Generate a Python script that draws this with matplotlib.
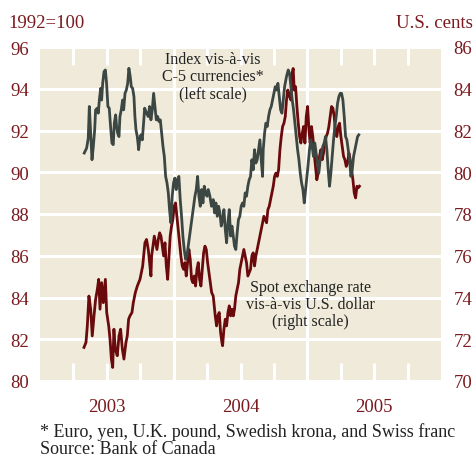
import matplotlib
matplotlib.use("Agg")
import matplotlib.pyplot as plt
from matplotlib.transforms import blended_transform_factory

# C-5 index (left scale, 1992=100), decimal years
index_years = [
    2003.331, 2003.349, 2003.361, 2003.369, 2003.379, 2003.389, 2003.399, 2003.409,
    2003.416, 2003.429, 2003.436, 2003.444, 2003.454, 2003.461, 2003.469, 2003.479,
    2003.489, 2003.498, 2003.508, 2003.518, 2003.528, 2003.538, 2003.548, 2003.556,
    2003.566, 2003.573, 2003.581, 2003.591, 2003.598, 2003.608, 2003.618, 2003.626,
    2003.636, 2003.646, 2003.656, 2003.665, 2003.675, 2003.683, 2003.693, 2003.703,
    2003.710, 2003.718, 2003.728, 2003.738, 2003.745, 2003.755, 2003.765, 2003.773,
    2003.783, 2003.797, 2003.810, 2003.820, 2003.830, 2003.840, 2003.850, 2003.860,
    2003.870, 2003.880, 2003.890, 2003.900, 2003.910, 2003.920, 2003.930, 2003.940,
    2003.950, 2003.960, 2003.969, 2003.979, 2003.989, 2003.999, 2004.009, 2004.019,
    2004.029, 2004.039, 2004.049, 2004.059, 2004.069, 2004.079, 2004.089, 2004.099,
    2004.109, 2004.119, 2004.129, 2004.139, 2004.149, 2004.159, 2004.169, 2004.179,
    2004.189, 2004.199, 2004.209, 2004.219, 2004.229, 2004.239, 2004.249, 2004.259,
    2004.271, 2004.283, 2004.296, 2004.306, 2004.316, 2004.326, 2004.336, 2004.346,
    2004.356, 2004.366, 2004.376, 2004.386, 2004.396, 2004.406, 2004.416, 2004.426,
    2004.436, 2004.446, 2004.455, 2004.465, 2004.475, 2004.485, 2004.495, 2004.505,
    2004.515, 2004.525, 2004.535, 2004.545, 2004.555, 2004.565, 2004.575, 2004.585,
    2004.595, 2004.605, 2004.615, 2004.625, 2004.635, 2004.645, 2004.655, 2004.665,
    2004.670, 2004.680, 2004.690, 2004.700, 2004.710, 2004.720, 2004.730, 2004.740,
    2004.750, 2004.760, 2004.770, 2004.780, 2004.790, 2004.800, 2004.810, 2004.820,
    2004.830, 2004.844, 2004.857, 2004.867, 2004.877, 2004.887, 2004.897, 2004.907,
    2004.917, 2004.927, 2004.937, 2004.947, 2004.957, 2004.967, 2004.977, 2004.987,
    2004.997, 2005.007, 2005.016, 2005.026, 2005.036, 2005.046, 2005.056, 2005.066,
    2005.076, 2005.086, 2005.096, 2005.106, 2005.116, 2005.126, 2005.136, 2005.146,
    2005.156, 2005.166, 2005.176, 2005.186, 2005.196, 2005.206, 2005.216, 2005.226,
    2005.236, 2005.246, 2005.256, 2005.266, 2005.276, 2005.286, 2005.296, 2005.306,
    2005.316, 2005.326, 2005.336, 2005.346, 2005.356, 2005.366, 2005.376, 2005.385,
]
index_vals = [
    90.92, 91.16, 91.63, 93.15, 91.87, 90.60, 91.24, 92.03,
    92.99, 93.07, 92.83, 93.46, 94.02, 93.46, 94.26, 94.82,
    94.90, 94.26, 93.15, 93.07, 92.19, 91.40, 91.32, 92.35,
    92.75, 92.19, 91.87, 91.71, 92.67, 92.99, 93.46, 92.99,
    93.78, 93.94, 94.26, 94.98, 94.58, 94.10, 94.02, 93.62,
    92.67, 92.03, 91.71, 91.08, 91.55, 91.79, 91.55, 92.19,
    93.07, 92.83, 92.67, 93.15, 92.51, 92.99, 93.78, 93.15,
    92.51, 92.67, 92.43, 92.51, 91.87, 91.24, 90.76, 89.80,
    89.49, 89.01, 88.21, 87.58, 88.85, 89.49, 89.72, 89.17,
    89.64, 89.80, 88.69, 87.89, 86.94, 86.30, 85.83, 85.99,
    86.46, 86.94, 87.42, 87.89, 88.37, 88.85, 89.17, 89.80,
    88.85, 88.37, 89.17, 88.53, 89.33, 89.01, 88.85, 89.17,
    88.85, 88.37, 88.69, 88.05, 88.53, 87.89, 88.37, 88.05,
    87.42, 87.74, 88.21, 87.26, 86.62, 87.58, 88.21, 86.94,
    87.42, 86.94, 86.46, 86.30, 87.10, 87.74, 87.89, 88.37,
    88.53, 88.37, 89.01, 88.85, 89.33, 89.64, 89.80, 90.60,
    90.12, 91.08, 90.44, 90.60, 91.08, 91.55, 90.60, 89.80,
    91.08, 91.87, 92.35, 92.19, 92.67, 92.99, 93.15, 93.46,
    93.78, 94.10, 93.94, 94.26, 93.62, 92.99, 92.83, 93.46,
    94.10, 94.58, 94.90, 94.74, 94.10, 93.46, 92.99, 92.35,
    91.71, 91.08, 90.60, 89.96, 89.49, 89.17, 88.53, 89.17,
    89.80, 90.44, 91.08, 91.55, 91.24, 90.76, 91.40, 90.92,
    90.44, 89.96, 90.60, 90.92, 91.24, 91.40, 91.71, 91.08,
    90.12, 89.33, 89.96, 90.76, 91.55, 92.19, 92.67, 93.30,
    93.62, 93.78, 93.78, 93.46, 92.67, 91.71, 91.55, 91.08,
    90.60, 89.80, 90.12, 90.76, 91.08, 91.40, 91.71, 91.79,
]

# Spot rate vs U.S. dollar (right scale, U.S. cents)
spot_years = [
    2003.329, 2003.344, 2003.354, 2003.366, 2003.379, 2003.391, 2003.404, 2003.416,
    2003.429, 2003.439, 2003.449, 2003.461, 2003.474, 2003.489, 2003.499, 2003.514,
    2003.524, 2003.534, 2003.544, 2003.553, 2003.563, 2003.578, 2003.591, 2003.603,
    2003.616, 2003.628, 2003.643, 2003.653, 2003.663, 2003.673, 2003.688, 2003.698,
    2003.713, 2003.728, 2003.748, 2003.768, 2003.785, 2003.797, 2003.810, 2003.820,
    2003.830, 2003.835, 2003.845, 2003.855, 2003.865, 2003.875, 2003.885, 2003.895,
    2003.905, 2003.915, 2003.925, 2003.935, 2003.945, 2003.955, 2003.965, 2003.974,
    2003.984, 2003.994, 2004.004, 2004.014, 2004.024, 2004.034, 2004.044, 2004.054,
    2004.064, 2004.074, 2004.084, 2004.094, 2004.104, 2004.114, 2004.124, 2004.134,
    2004.144, 2004.154, 2004.164, 2004.174, 2004.184, 2004.194, 2004.204, 2004.214,
    2004.224, 2004.234, 2004.244, 2004.254, 2004.264, 2004.274, 2004.284, 2004.296,
    2004.311, 2004.321, 2004.331, 2004.341, 2004.351, 2004.361, 2004.366, 2004.376,
    2004.386, 2004.396, 2004.406, 2004.416, 2004.426, 2004.436, 2004.446, 2004.455,
    2004.465, 2004.475, 2004.485, 2004.495, 2004.505, 2004.515, 2004.525, 2004.535,
    2004.545, 2004.555, 2004.565, 2004.575, 2004.585, 2004.595, 2004.605, 2004.615,
    2004.625, 2004.635, 2004.645, 2004.655, 2004.665, 2004.675, 2004.685, 2004.695,
    2004.705, 2004.715, 2004.725, 2004.735, 2004.745, 2004.755, 2004.765, 2004.775,
    2004.785, 2004.795, 2004.805, 2004.815, 2004.825, 2004.835, 2004.844, 2004.854,
    2004.867, 2004.877, 2004.887, 2004.894, 2004.902, 2004.912, 2004.922, 2004.932,
    2004.942, 2004.952, 2004.962, 2004.972, 2004.982, 2004.992, 2005.002, 2005.012,
    2005.021, 2005.031, 2005.041, 2005.051, 2005.061, 2005.071, 2005.081, 2005.091,
    2005.101, 2005.111, 2005.121, 2005.131, 2005.141, 2005.151, 2005.161, 2005.171,
    2005.181, 2005.191, 2005.201, 2005.211, 2005.221, 2005.231, 2005.241, 2005.251,
    2005.261, 2005.271, 2005.281, 2005.291, 2005.301, 2005.311, 2005.321, 2005.331,
    2005.341, 2005.351, 2005.361, 2005.371, 2005.380, 2005.390,
]
spot_vals = [
    71.61, 71.85, 72.64, 74.07, 73.44, 72.16, 73.12, 73.91,
    74.39, 74.87, 73.44, 74.71, 73.75, 74.87, 73.28, 72.64,
    72.00, 71.05, 70.65, 72.48, 71.53, 71.21, 72.16, 72.48,
    71.53, 71.05, 71.85, 72.16, 72.96, 73.12, 73.28, 73.75,
    74.23, 74.55, 74.87, 75.50, 76.62, 76.78, 76.30, 75.67,
    75.03, 75.99, 76.46, 76.94, 76.62, 76.30, 76.78, 77.10,
    76.94, 76.46, 75.99, 76.62, 75.51, 74.87, 75.99, 76.94,
    77.42, 77.74, 78.37, 78.53, 77.89, 77.26, 76.62, 75.99,
    75.51, 75.35, 75.67, 75.03, 75.67, 76.30, 75.83, 74.87,
    74.71, 75.03, 74.55, 75.35, 75.67, 74.87, 74.55, 75.35,
    76.14, 76.46, 76.30, 75.67, 75.19, 74.71, 74.24, 74.07,
    73.12, 72.64, 73.12, 73.28, 72.33, 71.85, 71.69, 72.48,
    72.96, 72.64, 73.28, 73.60, 73.12, 73.44, 73.12, 73.44,
    74.08, 74.39, 74.71, 75.35, 75.67, 75.99, 76.30, 75.99,
    75.67, 75.03, 75.19, 75.35, 75.99, 76.14, 75.51, 75.99,
    76.30, 76.62, 76.94, 77.26, 77.58, 77.89, 77.74, 77.58,
    78.21, 78.37, 78.69, 79.01, 79.33, 79.80, 79.96, 79.80,
    80.12, 81.08, 81.71, 82.19, 82.35, 82.67, 83.46, 83.94,
    83.62, 83.46, 84.74, 84.97, 83.94, 84.10, 83.15, 82.35,
    81.71, 81.40, 81.87, 82.19, 81.40, 82.67, 83.15, 82.03,
    81.40, 82.19, 81.71, 80.92, 80.28, 79.64, 79.96, 80.76,
    81.08, 80.60, 80.92, 81.40, 81.71, 81.87, 82.19, 82.67,
    83.15, 83.07, 82.67, 81.87, 81.71, 82.19, 82.35, 81.71,
    81.24, 80.76, 80.60, 80.28, 80.44, 80.92, 80.60, 80.12,
    79.64, 79.01, 78.77, 79.33, 79.25, 79.33,
]

left_ticks = [80, 82, 84, 86, 88, 90, 92, 94, 96]
right_ticks = [70, 72, 74, 76, 78, 80, 82, 84, 86]
year_labels = ["2003", "2004", "2005"]
year_centres = [2003.5, 2004.5, 2005.5]
other_quarters = [2003.25, 2003.75, 2004.25, 2004.75, 2005.25, 2005.75]

BG = "#efead9"
RED = "#6b0a0c"
GREY = "#3c4744"
LABEL = "#7a1a1e"
INK = "#222222"

plt.rcParams["font.family"] = ["Liberation Serif", "DejaVu Serif"]

fig = plt.figure(figsize=(4.77, 4.60), dpi=100)
ax = fig.add_axes([40 / 477, 78 / 460, 401 / 477, 334 / 460])
ax2 = ax.twinx()

# right axis sits underneath and carries the background + grid
ax2.set_zorder(0)
ax.set_zorder(1)
ax.patch.set_visible(False)
ax2.patch.set_facecolor(BG)
ax2.patch.set_visible(True)

ax.set_xlim(2003, 2006)
ax.set_ylim(80, 96)
ax2.set_ylim(70, 86)

for s in list(ax.spines.values()) + list(ax2.spines.values()):
    s.set_visible(False)

ax2.set_yticks(right_ticks)
ax2.yaxis.grid(True, color="white", linewidth=2.2)
ax2.set_axisbelow(True)
trans = blended_transform_factory(ax2.transData, ax2.transAxes)
for yr in (2004, 2005):
    ax2.plot([yr, yr], [0, 1], color="white", lw=2.2, transform=trans, zorder=0.5)

ax2.plot(spot_years, spot_vals, color=RED, lw=2.0, zorder=2)
ax.plot(index_years, index_vals, color=GREY, lw=2.0, zorder=3)

ax.set_yticks(left_ticks)
ax.tick_params(axis="y", length=0, pad=8, labelsize=13.5, labelcolor=LABEL)
ax2.tick_params(axis="y", length=0, pad=9, labelsize=13.5, labelcolor=LABEL)

# quarter ticks: white notches at top and bottom, years labelled mid-year
ax.set_xticks(year_centres)
ax.set_xticklabels(year_labels)
ax.set_xticks(other_quarters, minor=True)
ax.tick_params(axis="x", which="both", direction="in", length=13, width=2.2,
               color="white", top=True, bottom=True)
ax.tick_params(axis="x", which="major", pad=12, labelsize=13.5,
               labelcolor=LABEL)
ax2.tick_params(axis="x", length=0)

fig.text(8 / 477, 1 - 23 / 460, "1992=100", color=LABEL, fontsize=13.5,
         ha="left", va="center")
fig.text(473 / 477, 1 - 23 / 460, "U.S. cents", color=LABEL, fontsize=13.5,
         ha="right", va="center")

ax.text(2004.295, 94.6, "Index vis-à-vis\nC-5 currencies*\n(left scale)",
        ha="center", va="center", fontsize=11.5, color=INK, linespacing=1.1)
ax.text(2005.02, 83.7, "Spot exchange rate\nvis-à-vis U.S. dollar\n(right scale)",
        ha="center", va="center", fontsize=11.5, color=INK, linespacing=1.1)

fig.text(40 / 477, 1 - 432 / 460,
         "* Euro, yen, U.K. pound, Swedish krona, and Swiss franc",
         fontsize=13.0, color=INK, ha="left", va="center")
fig.text(40 / 477, 1 - 450 / 460, "Source: Bank of Canada",
         fontsize=13.0, color=INK, ha="left", va="center")

fig.savefig("out.png", dpi=100, facecolor="white")
